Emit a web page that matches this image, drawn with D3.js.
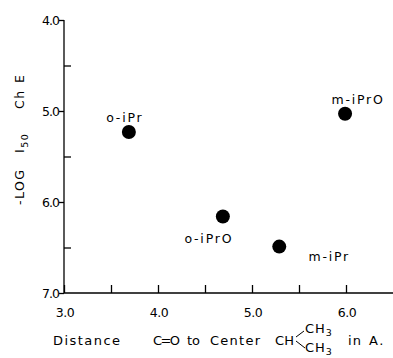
<!DOCTYPE html>
<html>
<head>
<meta charset="utf-8">
<script src="https://cdn.jsdelivr.net/npm/d3@7"></script>
<style>
  body { margin: 0; background: #fff; }
  svg text { font-family: "DejaVu Sans", sans-serif; fill: #000; }
  .axis path, .axis line { stroke: #000; stroke-width: 1.3; }
</style>
</head>
<body>
<div id="chart"></div>
<script>
  // data
  var compounds = ['o-iPr', 'o-iPrO', 'm-iPr', 'm-iPrO'];
  var distance = [3.69, 4.69, 5.29, 5.99];
  var logI50 = [5.23, 6.16, 6.49, 5.03];

  var xTicks = [3.0, 3.5, 4.0, 4.5, 5.0, 5.5, 6.0];
  var xTickLabels = ['3.0', '4.0', '5.0', '6.0'];
  var yMajor = [4.0, 5.0, 6.0, 7.0];
  var yMinor = [4.5, 5.5, 6.5];

  // label offsets from the dot (dx, dy)
  var labelPos = {
    'o-iPr': [-4, -10],
    'o-iPrO': [-14, 26],
    'm-iPr': [50, 14],
    'm-iPrO': [13, -10]
  };

  var width = 393, height = 358;

  var svg = d3.select('#chart').append('svg')
    .attr('width', width)
    .attr('height', height);

  var x = d3.scaleLinear().domain([3.0, 6.5]).range([64, 393]);
  var y = d3.scaleLinear().domain([4.0, 7.0]).range([20, 293]);

  // x axis, ticks point up into the plot
  var xAxis = svg.append('g')
    .attr('class', 'axis')
    .attr('transform', 'translate(0,' + y(7.0) + ')')
    .call(d3.axisBottom(x).tickValues(xTicks).tickSize(-8).tickFormat(''));
  xAxis.select('.domain').attr('d', 'M' + x(3.0) + ',0H' + x(6.5));

  svg.append('g')
    .selectAll('text')
    .data(xTickLabels)
    .enter().append('text')
    .attr('x', function(d){ return x(+d) + 1; })
    .attr('y', y(7.0) + 24)
    .attr('text-anchor', 'middle')
    .attr('font-size', 12.5)
    .attr('letter-spacing', -0.5)
    .text(function(d){ return d; });

  // y axis, major ticks outward
  var yAxis = svg.append('g')
    .attr('class', 'axis')
    .attr('transform', 'translate(' + x(3.0) + ',0)')
    .call(d3.axisLeft(y).tickValues(yMajor).tickSize(5).tickPadding(0)
      .tickFormat(d3.format('.1f')));
  yAxis.select('.domain').attr('d', 'M0,' + y(4.0) + 'V' + y(7.0));
  yAxis.selectAll('text')
    .attr('font-size', 12.5)
    .attr('font-family', '"DejaVu Sans", sans-serif')
    .attr('letter-spacing', -1);

  // minor y ticks inward
  var yMinorAxis = svg.append('g')
    .attr('class', 'axis')
    .attr('transform', 'translate(' + x(3.0) + ',0)')
    .call(d3.axisRight(y).tickValues(yMinor).tickSize(7).tickFormat(''));
  yMinorAxis.select('.domain').remove();

  // points
  var pts = compounds.map(function(c, i){
    return {name: c, x: distance[i], y: logI50[i]};
  });

  svg.append('g')
    .selectAll('circle')
    .data(pts)
    .enter().append('circle')
    .attr('cx', function(d){ return x(d.x); })
    .attr('cy', function(d){ return y(d.y); })
    .attr('r', 7)
    .attr('fill', '#000');

  svg.append('g')
    .selectAll('text')
    .data(pts)
    .enter().append('text')
    .attr('x', function(d){ return x(d.x) + labelPos[d.name][0]; })
    .attr('y', function(d){ return y(d.y) + labelPos[d.name][1]; })
    .attr('text-anchor', 'middle')
    .attr('font-size', 12.5)
    .attr('letter-spacing', 1.8)
    .text(function(d){ return d.name; });

  // y axis title, pieces placed along the rotated baseline
  var yt = svg.append('g')
    .attr('transform', 'translate(24,205) rotate(-90)')
    .attr('font-size', 12.5)
    .attr('letter-spacing', 1.5);
  yt.append('text').attr('x', 0).text('-LOG');
  var i50 = yt.append('text').attr('x', 52);
  i50.append('tspan').text('I');
  i50.append('tspan').attr('font-size', 9.5).attr('dy', 4).text('50');
  yt.append('text').attr('x', 96).text('Ch');
  yt.append('text').attr('x', 122).text('E');

  // x axis title, word by word: [text, left, width]
  var words = [['Distance', 53, 67], ['C=O', 153, 27], ['to', 187, 13], ['Center', 210, 50],
               ['CH', 275, 19], ['in', 348, 13]];
  var xt = svg.append('g').attr('font-size', 13);
  xt.selectAll('text.w')
    .data(words)
    .enter().append('text')
    .attr('class', 'w')
    .attr('x', function(d){ return d[1]; })
    .attr('y', 345)
    .attr('textLength', function(d){ return d[2]; })
    .attr('lengthAdjust', 'spacing')
    .text(function(d){ return d[0]; });
  xt.append('text').attr('x', 369).attr('y', 345).attr('letter-spacing', 1.5).text('A.');
  xt.append('path')
    .attr('d', 'M296,337 L304,331 M296,341 L305,348')
    .attr('stroke', '#000').attr('stroke-width', 1).attr('fill', 'none');
  [333, 352].forEach(function(yy){
    var c = xt.append('text').attr('x', 305).attr('y', yy).attr('letter-spacing', 1);
    c.append('tspan').text('CH');
    c.append('tspan').attr('font-size', 9.5).attr('dy', 2.5).text('3');
  });
</script>
</body>
</html>
